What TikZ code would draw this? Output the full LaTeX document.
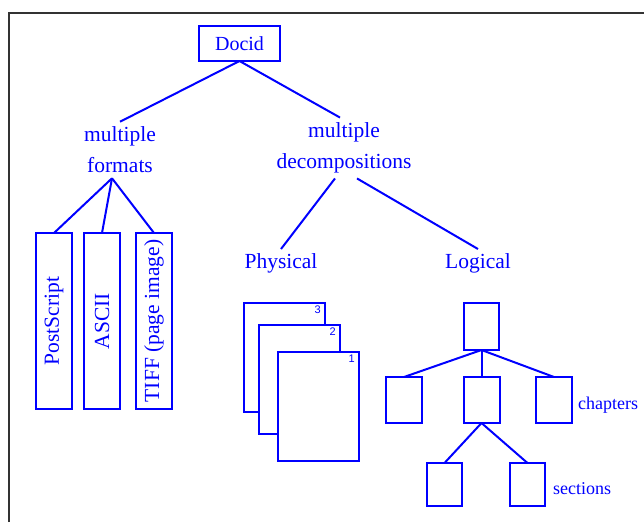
\documentclass[tikz,border=0pt]{standalone}
\usepackage{fontspec}
\setmainfont{Liberation Serif}
\newfontfamily\numfont{Liberation Sans}
\usetikzlibrary{calc}
\begin{document}
\begin{tikzpicture}[x=1pt,y=-1pt,
  every node/.style={text=blue},
  link/.style={draw=blue, line width=2pt},
  box/.style={draw=blue, line width=2pt, fill=white, inner sep=0pt, outer sep=0pt},
  fmtbox/.style={box, minimum width=36, minimum height=176, font=\fontsize{21.5}{26}\selectfont},
  pagebox/.style={box, minimum width=81, minimum height=109},
  pagenum/.style={font=\numfont\fontsize{11}{13}\selectfont, anchor=north east, inner sep=0pt, xshift=-4pt, yshift=-2.5pt},
  treebox/.style={box, minimum width=36, minimum height=46},
  leafbox/.style={box, minimum width=35, minimum height=43},
  lbl/.style={font=\fontsize{21.5}{31}\selectfont, align=center, inner sep=5pt},
  word/.style={font=\fontsize{21.5}{26}\selectfont, inner sep=4pt},
  note/.style={font=\fontsize{18}{22}\selectfont, anchor=base west, inner sep=0pt}
]
\useasboundingbox (0,0) rectangle (644,522);

% outer frame (top and left edges)
\draw[black!80, line width=2pt] (9,522) -- (9,13) -- (644,13);

% root of the hierarchy
\node[box, minimum width=81, minimum height=35, font=\fontsize{20}{24}\selectfont] (docid) at (239.5,43.5) {Docid};

% second level
\node[lbl] (fmt) at (120,150) {multiple\\formats};
\node[lbl] (dec) at (344,148) {multiple\\decompositions};

% formats
\node[fmtbox] (ps) at (54,321) {\rotatebox{90}{PostScript}};
\node[fmtbox] (ascii) at (102,321) {\rotatebox{90}{ASCII}};
\node[fmtbox] (tiff) at (154,321) {\rotatebox{90}{TIFF (page image)}};

% decompositions
\node[word] (phys) at (281,263) {Physical};
\node[word] (logi) at (478,263) {Logical};

% physical: stack of pages
\node[pagebox, label={[pagenum]north east:3}] (p3) at (284.5,357.5) {};
\node[pagebox, label={[pagenum]north east:2}] (p2) at (299.5,379.5) {};
\node[pagebox, label={[pagenum]north east:1}] (p1) at (318.5,406.5) {};

% logical: document tree
\node[box, minimum width=35, minimum height=47] (root) at (481.5,326.5) {};
\node[treebox] (c1) at (404,400) {};
\node[treebox] (c2) at (481.5,400) {};
\node[treebox] (c3) at (554,400) {};
\node[leafbox] (s1) at (444.5,484.5) {};
\node[leafbox] (s2) at (527.5,484.5) {};
\node[note] (chap) at (578,409) {chapters};
\node[note] (sect) at (553,494) {sections};

% connectors
\draw[link] (docid.south) -- (fmt.north);
\draw[link] (docid.south) -- ($(dec.north)+(-4,0)$);
\draw[link] ($(fmt.south)+(-8,0)$) -- (ps.north);
\draw[link] ($(fmt.south)+(-8,0)$) -- (ascii.north);
\draw[link] ($(fmt.south)+(-8,0)$) -- (tiff.north);
\draw[link] ($(dec.south)+(-9,0)$) -- (phys.north);
\draw[link] ($(dec.south)+(13,0)$) -- (logi.north);
\draw[link] (root.south) -- (c1.north);
\draw[link] (root.south) -- (c2.north);
\draw[link] (root.south) -- (c3.north);
\draw[link] (c2.south) -- (s1.north);
\draw[link] (c2.south) -- (s2.north);
\end{tikzpicture}
\end{document}
